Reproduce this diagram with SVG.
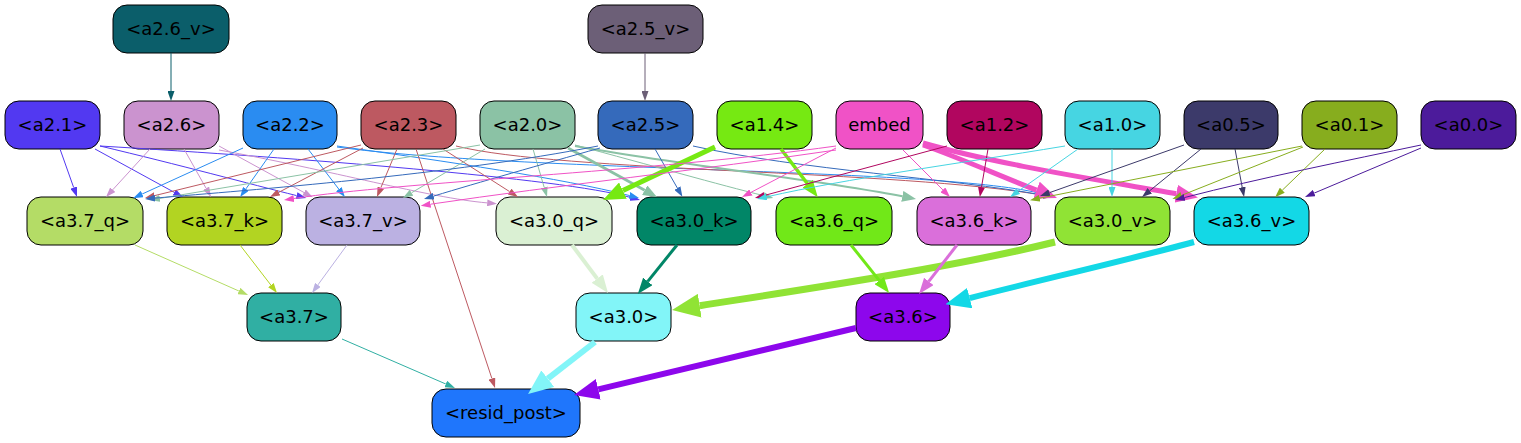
<svg xmlns="http://www.w3.org/2000/svg" width="1521" height="443" viewBox="0 0 1521 443">
<style>
.node rect{stroke:#000;stroke-width:1}
.node text{font-family:"DejaVu Sans","Liberation Sans",sans-serif;font-size:18px;text-anchor:middle;fill:#000}
#edges path{fill:none}
</style>
<defs>
<marker id="m-a26v" viewBox="0 0 10 7" refX="0" refY="3.5" markerWidth="10" markerHeight="7" markerUnits="userSpaceOnUse" orient="auto" preserveAspectRatio="none"><path d="M0,0L10,3.5L0,7z" fill="#0b5e6a"/></marker>
<marker id="m-a25v" viewBox="0 0 10 7" refX="0" refY="3.5" markerWidth="10" markerHeight="7" markerUnits="userSpaceOnUse" orient="auto" preserveAspectRatio="none"><path d="M0,0L10,3.5L0,7z" fill="#6c5f77"/></marker>
<marker id="m-a21" viewBox="0 0 10 7" refX="0" refY="3.5" markerWidth="10" markerHeight="7" markerUnits="userSpaceOnUse" orient="auto" preserveAspectRatio="none"><path d="M0,0L10,3.5L0,7z" fill="#5239f1"/></marker>
<marker id="m-a26" viewBox="0 0 10 7" refX="0" refY="3.5" markerWidth="10" markerHeight="7" markerUnits="userSpaceOnUse" orient="auto" preserveAspectRatio="none"><path d="M0,0L10,3.5L0,7z" fill="#cb93cf"/></marker>
<marker id="m-a22" viewBox="0 0 10 7" refX="0" refY="3.5" markerWidth="10" markerHeight="7" markerUnits="userSpaceOnUse" orient="auto" preserveAspectRatio="none"><path d="M0,0L10,3.5L0,7z" fill="#2a8cf1"/></marker>
<marker id="m-a23" viewBox="0 0 10 7" refX="0" refY="3.5" markerWidth="10" markerHeight="7" markerUnits="userSpaceOnUse" orient="auto" preserveAspectRatio="none"><path d="M0,0L10,3.5L0,7z" fill="#bd5961"/></marker>
<marker id="m-a20" viewBox="0 0 10 7" refX="0" refY="3.5" markerWidth="10" markerHeight="7" markerUnits="userSpaceOnUse" orient="auto" preserveAspectRatio="none"><path d="M0,0L10,3.5L0,7z" fill="#8bc2a5"/></marker>
<marker id="m-a20b" viewBox="0 0 10 7" refX="0" refY="3.5" markerWidth="14" markerHeight="11" markerUnits="userSpaceOnUse" orient="auto" preserveAspectRatio="none"><path d="M0,0L10,3.5L0,7z" fill="#8bc2a5"/></marker>
<marker id="m-a25" viewBox="0 0 10 7" refX="0" refY="3.5" markerWidth="10" markerHeight="7" markerUnits="userSpaceOnUse" orient="auto" preserveAspectRatio="none"><path d="M0,0L10,3.5L0,7z" fill="#356abb"/></marker>
<marker id="m-a14a" viewBox="0 0 10 7" refX="0" refY="3.5" markerWidth="22" markerHeight="18" markerUnits="userSpaceOnUse" orient="auto" preserveAspectRatio="none"><path d="M0,0L10,3.5L0,7z" fill="#76e912"/></marker>
<marker id="m-a14b" viewBox="0 0 10 7" refX="0" refY="3.5" markerWidth="17" markerHeight="13" markerUnits="userSpaceOnUse" orient="auto" preserveAspectRatio="none"><path d="M0,0L10,3.5L0,7z" fill="#76e912"/></marker>
<marker id="m-emb" viewBox="0 0 10 7" refX="0" refY="3.5" markerWidth="10" markerHeight="7" markerUnits="userSpaceOnUse" orient="auto" preserveAspectRatio="none"><path d="M0,0L10,3.5L0,7z" fill="#f052c6"/></marker>
<marker id="m-embb" viewBox="0 0 10 7" refX="0" refY="3.5" markerWidth="22" markerHeight="18" markerUnits="userSpaceOnUse" orient="auto" preserveAspectRatio="none"><path d="M0,0L10,3.5L0,7z" fill="#f052c6"/></marker>
<marker id="m-a12" viewBox="0 0 10 7" refX="0" refY="3.5" markerWidth="10" markerHeight="7" markerUnits="userSpaceOnUse" orient="auto" preserveAspectRatio="none"><path d="M0,0L10,3.5L0,7z" fill="#b1065f"/></marker>
<marker id="m-a10" viewBox="0 0 10 7" refX="0" refY="3.5" markerWidth="10" markerHeight="7" markerUnits="userSpaceOnUse" orient="auto" preserveAspectRatio="none"><path d="M0,0L10,3.5L0,7z" fill="#46d5e2"/></marker>
<marker id="m-a05" viewBox="0 0 10 7" refX="0" refY="3.5" markerWidth="10" markerHeight="7" markerUnits="userSpaceOnUse" orient="auto" preserveAspectRatio="none"><path d="M0,0L10,3.5L0,7z" fill="#3c3a6a"/></marker>
<marker id="m-a01" viewBox="0 0 10 7" refX="0" refY="3.5" markerWidth="10" markerHeight="7" markerUnits="userSpaceOnUse" orient="auto" preserveAspectRatio="none"><path d="M0,0L10,3.5L0,7z" fill="#87ad1e"/></marker>
<marker id="m-a00" viewBox="0 0 10 7" refX="0" refY="3.5" markerWidth="10" markerHeight="7" markerUnits="userSpaceOnUse" orient="auto" preserveAspectRatio="none"><path d="M0,0L10,3.5L0,7z" fill="#4c1b9b"/></marker>
<marker id="m-37q" viewBox="0 0 10 7" refX="0" refY="3.5" markerWidth="10" markerHeight="7" markerUnits="userSpaceOnUse" orient="auto" preserveAspectRatio="none"><path d="M0,0L10,3.5L0,7z" fill="#b4dc66"/></marker>
<marker id="m-37k" viewBox="0 0 10 7" refX="0" refY="3.5" markerWidth="10" markerHeight="7" markerUnits="userSpaceOnUse" orient="auto" preserveAspectRatio="none"><path d="M0,0L10,3.5L0,7z" fill="#b2d422"/></marker>
<marker id="m-37v" viewBox="0 0 10 7" refX="0" refY="3.5" markerWidth="10" markerHeight="7" markerUnits="userSpaceOnUse" orient="auto" preserveAspectRatio="none"><path d="M0,0L10,3.5L0,7z" fill="#bbb1e2"/></marker>
<marker id="m-30q" viewBox="0 0 10 7" refX="0" refY="3.5" markerWidth="18" markerHeight="14" markerUnits="userSpaceOnUse" orient="auto" preserveAspectRatio="none"><path d="M0,0L10,3.5L0,7z" fill="#daf0d3"/></marker>
<marker id="m-30k" viewBox="0 0 10 7" refX="0" refY="3.5" markerWidth="16" markerHeight="12" markerUnits="userSpaceOnUse" orient="auto" preserveAspectRatio="none"><path d="M0,0L10,3.5L0,7z" fill="#018667"/></marker>
<marker id="m-30v" viewBox="0 0 10 7" refX="0" refY="3.5" markerWidth="28" markerHeight="24" markerUnits="userSpaceOnUse" orient="auto" preserveAspectRatio="none"><path d="M0,0L10,3.5L0,7z" fill="#90e335"/></marker>
<marker id="m-36q" viewBox="0 0 10 7" refX="0" refY="3.5" markerWidth="16" markerHeight="12" markerUnits="userSpaceOnUse" orient="auto" preserveAspectRatio="none"><path d="M0,0L10,3.5L0,7z" fill="#71e818"/></marker>
<marker id="m-36k" viewBox="0 0 10 7" refX="0" refY="3.5" markerWidth="16" markerHeight="12" markerUnits="userSpaceOnUse" orient="auto" preserveAspectRatio="none"><path d="M0,0L10,3.5L0,7z" fill="#da6fda"/></marker>
<marker id="m-36v" viewBox="0 0 10 7" refX="0" refY="3.5" markerWidth="25" markerHeight="21" markerUnits="userSpaceOnUse" orient="auto" preserveAspectRatio="none"><path d="M0,0L10,3.5L0,7z" fill="#13d8e6"/></marker>
<marker id="m-37" viewBox="0 0 10 7" refX="0" refY="3.5" markerWidth="10" markerHeight="7" markerUnits="userSpaceOnUse" orient="auto" preserveAspectRatio="none"><path d="M0,0L10,3.5L0,7z" fill="#30afa3"/></marker>
<marker id="m-30" viewBox="0 0 10 7" refX="0" refY="3.5" markerWidth="25" markerHeight="21" markerUnits="userSpaceOnUse" orient="auto" preserveAspectRatio="none"><path d="M0,0L10,3.5L0,7z" fill="#82f5f8"/></marker>
<marker id="m-36" viewBox="0 0 10 7" refX="0" refY="3.5" markerWidth="25" markerHeight="21" markerUnits="userSpaceOnUse" orient="auto" preserveAspectRatio="none"><path d="M0,0L10,3.5L0,7z" fill="#8d07ec"/></marker>
</defs>
<rect width="1521" height="443" fill="#fff"/>
<g id="nodes">
<g id="a2.6_v" class="node"><rect x="113" y="5" width="116" height="48" rx="14" fill="#0b5e6a"/><text x="171" y="35">&lt;a2.6_v&gt;</text></g>
<g id="a2.5_v" class="node"><rect x="588" y="5" width="115" height="48" rx="14" fill="#6c5f77"/><text x="645.5" y="35">&lt;a2.5_v&gt;</text></g>
<g id="a2.1" class="node"><rect x="5" y="101" width="95" height="48" rx="14" fill="#5239f1"/><text x="52.5" y="131">&lt;a2.1&gt;</text></g>
<g id="a2.6" class="node"><rect x="124" y="101" width="95" height="48" rx="14" fill="#cb93cf"/><text x="171.5" y="131">&lt;a2.6&gt;</text></g>
<g id="a2.2" class="node"><rect x="243" y="101" width="94" height="48" rx="14" fill="#2a8cf1"/><text x="290" y="131">&lt;a2.2&gt;</text></g>
<g id="a2.3" class="node"><rect x="361" y="101" width="95" height="48" rx="14" fill="#bd5961"/><text x="408.5" y="131">&lt;a2.3&gt;</text></g>
<g id="a2.0" class="node"><rect x="480" y="101" width="95" height="48" rx="14" fill="#8bc2a5"/><text x="527.5" y="131">&lt;a2.0&gt;</text></g>
<g id="a2.5" class="node"><rect x="598" y="101" width="95" height="48" rx="14" fill="#356abb"/><text x="645.5" y="131">&lt;a2.5&gt;</text></g>
<g id="a1.4" class="node"><rect x="717" y="101" width="95" height="48" rx="14" fill="#76e912"/><text x="764.5" y="131">&lt;a1.4&gt;</text></g>
<g id="embed" class="node"><rect x="836" y="101" width="87" height="48" rx="14" fill="#f052c6"/><text x="879.5" y="131">embed</text></g>
<g id="a1.2" class="node"><rect x="947" y="101" width="95" height="48" rx="14" fill="#b1065f"/><text x="994.5" y="131">&lt;a1.2&gt;</text></g>
<g id="a1.0" class="node"><rect x="1065" y="101" width="95" height="48" rx="14" fill="#46d5e2"/><text x="1112.5" y="131">&lt;a1.0&gt;</text></g>
<g id="a0.5" class="node"><rect x="1184" y="101" width="94" height="48" rx="14" fill="#3c3a6a"/><text x="1231" y="131">&lt;a0.5&gt;</text></g>
<g id="a0.1" class="node"><rect x="1302" y="101" width="95" height="48" rx="14" fill="#87ad1e"/><text x="1349.5" y="131">&lt;a0.1&gt;</text></g>
<g id="a0.0" class="node"><rect x="1421" y="101" width="95" height="48" rx="14" fill="#4c1b9b"/><text x="1468.5" y="131">&lt;a0.0&gt;</text></g>
<g id="a3.7_q" class="node"><rect x="27" y="197" width="116" height="48" rx="14" fill="#b4dc66"/><text x="85" y="227">&lt;a3.7_q&gt;</text></g>
<g id="a3.7_k" class="node"><rect x="167" y="197" width="115" height="48" rx="14" fill="#b2d422"/><text x="224.5" y="227">&lt;a3.7_k&gt;</text></g>
<g id="a3.7_v" class="node"><rect x="306" y="197" width="114" height="48" rx="14" fill="#bbb1e2"/><text x="363" y="227">&lt;a3.7_v&gt;</text></g>
<g id="a3.0_q" class="node"><rect x="496" y="197" width="116" height="48" rx="14" fill="#daf0d3"/><text x="554" y="227">&lt;a3.0_q&gt;</text></g>
<g id="a3.0_k" class="node"><rect x="637" y="197" width="114" height="48" rx="14" fill="#018667"/><text x="694" y="227">&lt;a3.0_k&gt;</text></g>
<g id="a3.6_q" class="node"><rect x="776" y="197" width="116" height="48" rx="14" fill="#71e818"/><text x="834" y="227">&lt;a3.6_q&gt;</text></g>
<g id="a3.6_k" class="node"><rect x="917" y="197" width="114" height="48" rx="14" fill="#da6fda"/><text x="974" y="227">&lt;a3.6_k&gt;</text></g>
<g id="a3.0_v" class="node"><rect x="1055" y="197" width="115" height="48" rx="14" fill="#90e335"/><text x="1112.5" y="227">&lt;a3.0_v&gt;</text></g>
<g id="a3.6_v" class="node"><rect x="1194" y="197" width="115" height="48" rx="14" fill="#13d8e6"/><text x="1251.5" y="227">&lt;a3.6_v&gt;</text></g>
<g id="a3.7" class="node"><rect x="247" y="293" width="94" height="48" rx="14" fill="#30afa3"/><text x="294" y="323">&lt;a3.7&gt;</text></g>
<g id="a3.0" class="node"><rect x="576" y="293" width="95" height="48" rx="14" fill="#82f5f8"/><text x="623.5" y="323">&lt;a3.0&gt;</text></g>
<g id="a3.6" class="node"><rect x="856" y="293" width="94" height="48" rx="14" fill="#8d07ec"/><text x="903" y="323">&lt;a3.6&gt;</text></g>
<g id="resid_post" class="node"><rect x="432" y="389" width="148" height="48" rx="14" fill="#1f76fc"/><text x="506" y="419">&lt;resid_post&gt;</text></g>
</g>
<g id="edges">
<path d="M171,53L171,91" stroke="#0b5e6a" marker-end="url(#m-a26v)"/>
<path d="M645,53L645,91" stroke="#6c5f77" marker-end="url(#m-a25v)"/>
<path d="M60,149L73.7,187.6" stroke="#5239f1" marker-end="url(#m-a21)"/>
<path d="M95,149L174.2,192.3" stroke="#5239f1" marker-end="url(#m-a21)"/>
<path d="M100,146C180,165 250,184 296.6,195.6" stroke="#5239f1" marker-end="url(#m-a21)"/>
<path d="M100,146C300,158 560,178 630.4,197.4" stroke="#5239f1" marker-end="url(#m-a21)"/>
<path d="M150,149L112.8,189.7" stroke="#cb93cf" marker-end="url(#m-a26)"/>
<path d="M184,149L206.1,188.3" stroke="#cb93cf" marker-end="url(#m-a26)"/>
<path d="M219,146L304,192.5" stroke="#cb93cf" marker-end="url(#m-a26)"/>
<path d="M219,150C330,170 430,198 487.2,202.9" stroke="#cb93cf" marker-end="url(#m-a26)"/>
<path d="M243,148L142.2,194" stroke="#2a8cf1" marker-end="url(#m-a22)"/>
<path d="M274,149L245.9,188.9" stroke="#2a8cf1" marker-end="url(#m-a22)"/>
<path d="M308,149L338.8,189.1" stroke="#2a8cf1" marker-end="url(#m-a22)"/>
<path d="M337,146C450,162 560,178 629.3,195.5" stroke="#2a8cf1" marker-end="url(#m-a22)"/>
<path d="M337,147C520,172 950,168 1043.4,194.3" stroke="#2a8cf1" marker-end="url(#m-a22)"/>
<path d="M361,145L154.7,195.6" stroke="#bd5961" marker-end="url(#m-a23)"/>
<path d="M363,148L278.8,192.3" stroke="#bd5961" marker-end="url(#m-a23)"/>
<path d="M397,149L380.8,187.8" stroke="#bd5961" marker-end="url(#m-a23)"/>
<path d="M416,149L491.9,378.5" stroke="#bd5961" marker-end="url(#m-a23)"/>
<path d="M443,149L509.6,191.6" stroke="#bd5961" marker-end="url(#m-a23)"/>
<path d="M456,146C560,172 900,170 1043.2,195.3" stroke="#bd5961" marker-end="url(#m-a23)"/>
<path d="M480,145L159.9,198.4" stroke="#8bc2a5" marker-end="url(#m-a20)"/>
<path d="M485,149L411.5,192.8" stroke="#8bc2a5" marker-end="url(#m-a20)"/>
<path d="M533,149L544.2,187.4" stroke="#8bc2a5" marker-end="url(#m-a20)"/>
<path d="M568,148L644.7,190.3" stroke="#8bc2a5" stroke-width="2.7" marker-end="url(#m-a20b)"/>
<path d="M575,145C650,165 720,185 763.6,195.6" stroke="#8bc2a5" marker-end="url(#m-a20)"/>
<path d="M575,146C680,165 820,180 902.3,196.3" stroke="#8bc2a5" stroke-width="2" marker-end="url(#m-a20b)"/>
<path d="M598,146C450,175 250,190 155,198.1" stroke="#356abb" marker-end="url(#m-a25)"/>
<path d="M600,148C540,165 480,182 433.6,196.1" stroke="#356abb" marker-end="url(#m-a25)"/>
<path d="M655,149L677.4,188.1" stroke="#356abb" marker-end="url(#m-a25)"/>
<path d="M693,146C800,170 950,178 1043.2,195.2" stroke="#356abb" marker-end="url(#m-a25)"/>
<path d="M715,147L622.9,190.6" stroke="#76e912" stroke-width="5" marker-end="url(#m-a14a)"/>
<path d="M781,149L807.5,183.7" stroke="#76e912" stroke-width="3.5" marker-end="url(#m-a14b)"/>
<path d="M836,146C650,172 400,182 293.9,198.5" stroke="#f052c6" marker-end="url(#m-emb)"/>
<path d="M836,150C700,170 560,185 430.6,204.2" stroke="#f052c6" marker-end="url(#m-emb)"/>
<path d="M836,148L750.9,192.4" stroke="#f052c6" marker-end="url(#m-emb)"/>
<path d="M903,150L942.9,189.9" stroke="#f052c6" marker-end="url(#m-emb)"/>
<path d="M923,145C960,158 1000,176 1036.5,190.1" stroke="#f052c6" stroke-width="5" marker-end="url(#m-embb)"/>
<path d="M923,143C1000,165 1100,180 1176.3,193.7" stroke="#f052c6" stroke-width="5" marker-end="url(#m-embb)"/>
<path d="M947,146L764.6,195.4" stroke="#b1065f" marker-end="url(#m-a12)"/>
<path d="M988,149L981.5,187.1" stroke="#b1065f" marker-end="url(#m-a12)"/>
<path d="M1065,146C950,165 850,178 766.8,196.8" stroke="#46d5e2" marker-end="url(#m-a10)"/>
<path d="M1078,149L1018.2,191.2" stroke="#46d5e2" marker-end="url(#m-a10)"/>
<path d="M1112,149L1112,187" stroke="#46d5e2" marker-end="url(#m-a10)"/>
<path d="M1184,145L1049.4,192.7" stroke="#3c3a6a" marker-end="url(#m-a05)"/>
<path d="M1201,149L1149.8,190.7" stroke="#3c3a6a" marker-end="url(#m-a05)"/>
<path d="M1235,149L1242.2,187.2" stroke="#3c3a6a" marker-end="url(#m-a05)"/>
<path d="M1302,146L1039.8,198.2" stroke="#87ad1e" marker-end="url(#m-a01)"/>
<path d="M1303,147L1181.7,195.3" stroke="#87ad1e" marker-end="url(#m-a01)"/>
<path d="M1325,149L1282.3,190.2" stroke="#87ad1e" marker-end="url(#m-a01)"/>
<path d="M1421,145C1350,160 1260,178 1184.7,197.5" stroke="#4c1b9b" marker-end="url(#m-a00)"/>
<path d="M1421,148L1314.2,193.1" stroke="#4c1b9b" marker-end="url(#m-a00)"/>
<path d="M135,245L238.9,291" stroke="#b4dc66" marker-end="url(#m-37q)"/>
<path d="M240,245L270.9,285.1" stroke="#b2d422" marker-end="url(#m-37k)"/>
<path d="M347,245L317.9,284.9" stroke="#bbb1e2" marker-end="url(#m-37v)"/>
<path d="M572,245L597.2,278.6" stroke="#daf0d3" stroke-width="4" marker-end="url(#m-30q)"/>
<path d="M677,245L647.8,281.4" stroke="#018667" stroke-width="3" marker-end="url(#m-30k)"/>
<path d="M1055,242C950,268 800,290 699.7,305.7" stroke="#90e335" stroke-width="7" marker-end="url(#m-30v)"/>
<path d="M851,245L879.2,280.4" stroke="#71e818" stroke-width="3" marker-end="url(#m-36q)"/>
<path d="M957,245L928.8,281.4" stroke="#da6fda" stroke-width="3" marker-end="url(#m-36k)"/>
<path d="M1194,242C1120,262 1040,280 969.7,298.1" stroke="#13d8e6" stroke-width="6" marker-end="url(#m-36v)"/>
<path d="M342,339L445.8,384" stroke="#30afa3" marker-end="url(#m-37)"/>
<path d="M595,342L547.8,378.7" stroke="#82f5f8" stroke-width="6" marker-end="url(#m-30)"/>
<path d="M856,328L598.3,389.3" stroke="#8d07ec" stroke-width="6" marker-end="url(#m-36)"/>
</g>
</svg>
